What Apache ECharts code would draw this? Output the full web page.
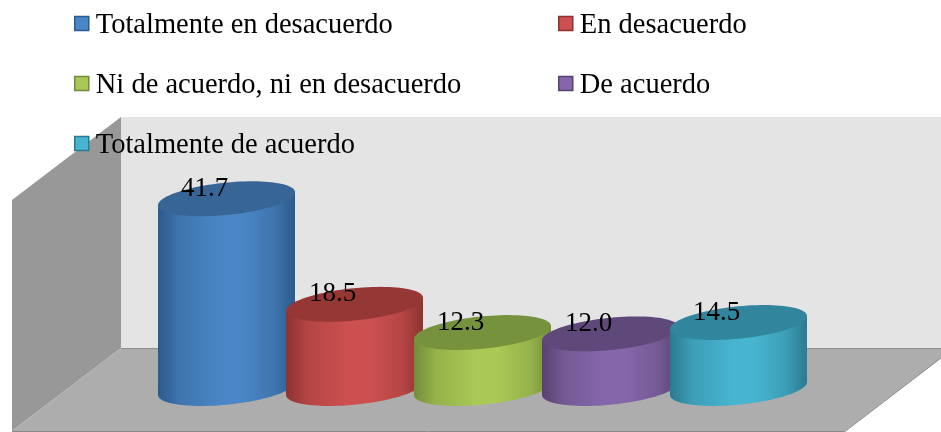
<!DOCTYPE html>
<html>
<head>
<meta charset="utf-8">
<style>html,body{margin:0;padding:0;background:#fff}#c{width:941px;height:432px}</style>
<script src="https://cdn.jsdelivr.net/npm/echarts@6/dist/echarts.min.js"></script>
</head>
<body>
<div id="c"></div>
<script>
const categories = ['Totalmente en desacuerdo','En desacuerdo','Ni de acuerdo, ni en desacuerdo','De acuerdo','Totalmente de acuerdo'];
const values = [41.7, 18.5, 12.3, 12.0, 14.5];
const midColors = ['#4a86c6','#cc5050','#a9c855','#8666ab','#47b4d0'];
const edgeColors = ['#2c5a8c','#8c3331','#718c3a','#57426f','#2a7a90'];
const sideColors = ['#3f75ae','#b54545','#96b24b','#735a94','#3d9db6'];
const topColors = ['#376596','#953735','#76923c','#5f497a','#31859c'];
const legendPos = [[74,11],[558,11],[74,71],[558,71],[74,131]];
const FONT = '"Liberation Serif", serif';

function cylinder(i){
  return function(params, api){
    const base = api.coord([api.value(0), 0]);
    const top = api.coord([api.value(0), api.value(1)]);
    const rx = api.size([1,0])[0] * 0.535;
    const tilt = rx * 0.095, b = rx * 0.2365;
    const pt = (c, t) => [c[0] + rx*Math.cos(t), c[1] - tilt*Math.cos(t) + b*Math.sin(t)];
    const body = [pt(top, Math.PI)];
    const N = 48;
    for (let k = 0; k <= N; k++) body.push(pt(base, Math.PI - Math.PI*k/N));
    body.push(pt(top, 0));
    const cap = [];
    for (let k = 0; k < N*2; k++) cap.push(pt(top, Math.PI*k/N));
    const grad = new echarts.graphic.LinearGradient(0,0,1,0,[
      {offset:0, color:edgeColors[i]},{offset:0.16, color:sideColors[i]},
      {offset:0.45, color:midColors[i]},{offset:0.62, color:midColors[i]},
      {offset:0.85, color:sideColors[i]},{offset:1, color:edgeColors[i]}
    ]);
    return {type:'group', children:[
      {type:'polygon', shape:{points:body}, style:{fill:grad}},
      {type:'polygon', shape:{points:cap}, style:{fill:topColors[i]}},
      {type:'text', x: top[0]-22, y: top[1]-10, style:{text: api.value(1).toFixed(1), font:'27px '+FONT, fill:'#000', align:'center', verticalAlign:'middle'}}
    ]};
  };
}

const chart = echarts.init(document.getElementById('c'), null, {renderer:'canvas'});
chart.setOption({
  animation:false,
  backgroundColor:'#fff',
  grid:{left:162.5, width:640, top:161, bottom:43.5},
  xAxis:{type:'category', data:categories, show:false},
  yAxis:{type:'value', min:0, max:50, show:false},
  legend: categories.map((c,i)=>({
    data:[c], left:legendPos[i][0], top:legendPos[i][1], selectedMode:false, padding:0,
    itemWidth:14, itemHeight:14, itemGap:0, icon:'rect',
    itemStyle:{color:midColors[i], borderColor:edgeColors[i], borderWidth:1.5},
    formatter: n => '{a|' + n + '}',
    textStyle:{fontFamily:FONT, fontSize:28.5, color:'#000', padding:[0,0,0,2],
      rich:{a:{fontFamily:FONT, fontSize:28.5, color:'#000', padding:[4,0,0,0]}}}
  })),
  graphic:[
    {type:'polygon', z:-3, silent:true, shape:{points:[[121,117],[941,117],[941,348],[121,348]]}, style:{fill:'#e4e4e4'}},
    {type:'polygon', z:-2, silent:true, shape:{points:[[12,200],[121,117],[121,348],[12,431]]}, style:{fill:'#989898'}},
    {type:'polygon', z:-2, silent:true, shape:{points:[[12,431],[121,348],[941,348],[941,358],[845,431]]}, style:{fill:'#adadad'}},
    {type:'polyline', z:-1, silent:true, shape:{points:[[121,348.5],[941,348.5]]}, style:{stroke:'#8f8f8f', lineWidth:1, fill:null}},
    {type:'polyline', z:-1, silent:true, shape:{points:[[12,431.5],[845,431.5],[941,358]]}, style:{stroke:'#8a8a8a', lineWidth:1, fill:null}}
  ],
  series: categories.map((c,i)=>({
    name:c, type:'custom', coordinateSystem:'cartesian2d', z:2+i,
    itemStyle:{color:midColors[i]},
    encode:{x:0,y:1},
    data:[[i, values[i]]],
    renderItem:cylinder(i),
    clip:false
  }))
});
</script>
</body>
</html>
